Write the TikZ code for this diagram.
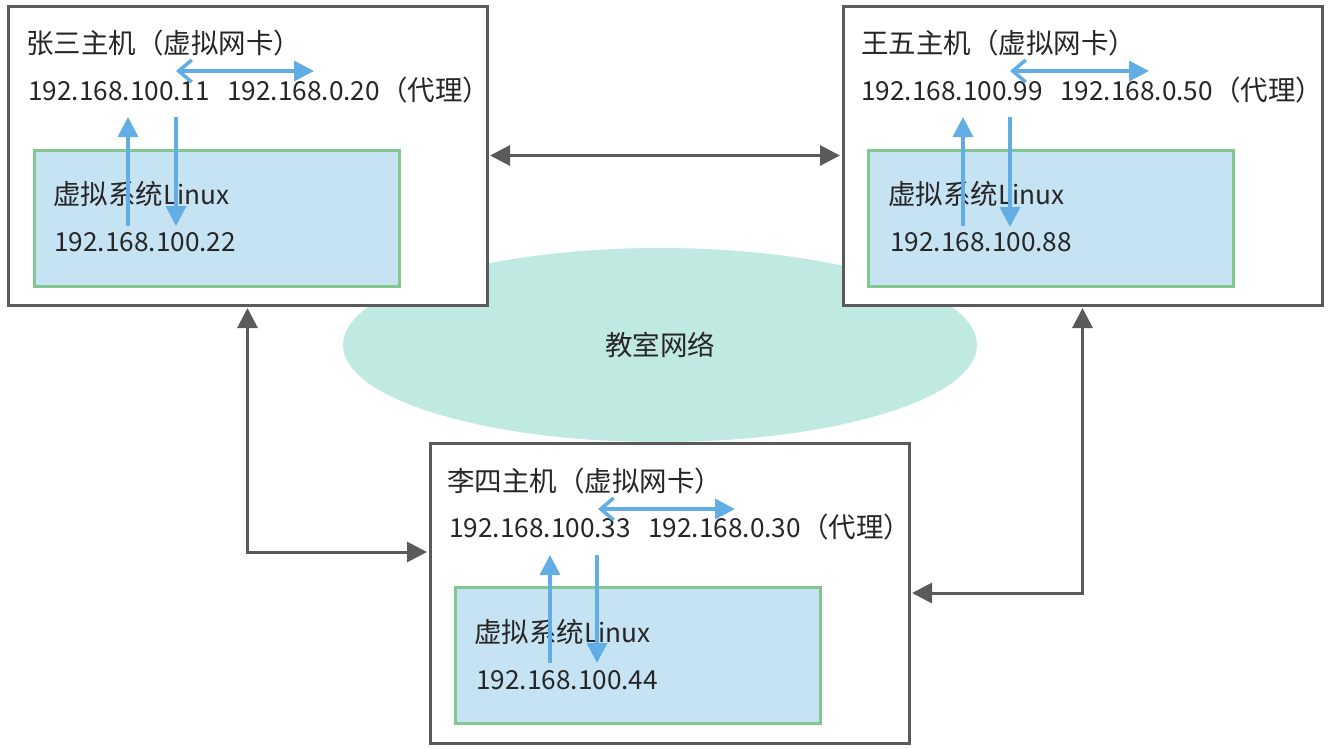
\documentclass[tikz,border=0pt]{standalone}
\usepackage{fontspec}
\setmainfont{Noto Sans CJK SC}
\usetikzlibrary{arrows.meta,calc,shapes.geometric}
\definecolor{hostgray}{HTML}{5A5A5A}
\definecolor{vmgreen}{HTML}{82C78F}
\definecolor{vmblue}{HTML}{C6E3F4}
\definecolor{bluearr}{HTML}{62ADE3}
\definecolor{netfill}{HTML}{BFE9E1}
\definecolor{txt}{HTML}{262626}
\newcommand{\bigcjk}[1]{{\fontsize{27.5}{31}\selectfont #1}}
\begin{document}
\begin{tikzpicture}[x=1pt,y=-1pt,
  host/.style={draw=hostgray, line width=3pt, fill=white, minimum width=479pt, minimum height=299pt, inner sep=0pt},
  vm/.style={draw=vmgreen, fill=vmblue, line width=3pt, minimum width=365pt, minimum height=136pt, inner sep=0pt},
  lbl/.style={anchor=west, inner sep=0pt, font=\fontsize{26.2}{31}\selectfont, text=txt},
  link/.style={draw=hostgray, line width=3pt, {Triangle[length=20pt,width=20pt]}-{Triangle[length=20pt,width=20pt]}},
  nic/.style={draw=bluearr, line width=3.5pt, {Straight Barb[length=13pt,width=22pt,line width=3.5pt]}-{Triangle[length=20pt,width=20pt]}},
  vlink/.style={draw=bluearr, line width=3.5pt, -{Triangle[length=20pt,width=20pt]}}
]
\useasboundingbox (0,0) rectangle (1342,748);

% network ellipse
\node[ellipse, fill=netfill, minimum width=634pt, minimum height=194pt, font=\fontsize{27.5}{31}\selectfont, text=txt] (net) at (660,345) {教室网络};

% hosts
\node[host] (zs) at (247.5,155.5) {};
\node[host] (ww) at (1082.5,155.5) {};
\node[host, minimum height=300pt] (ls) at (669.5,593) {};

% virtual machines
\node[vm] (zsvm) at (216.5,218) {};
\node[vm] (wwvm) at (1051,218) {};
\node[vm] (lsvm) at (638,655) {};

% labels
\node[lbl] (zst) at (26,43) {\bigcjk{张三主机（虚拟网卡）}};
\node[lbl] (zsip) at (28,90) {192.168.100.11\hspace{0.66em}192.168.0.20\bigcjk{（代理）}};
\node[lbl] (zsvt) at (53,194) {\bigcjk{虚拟系统}Linux};
\node[lbl] (zsvip) at (54,242) {192.168.100.22};

\node[lbl] (wwt) at (861,43) {\bigcjk{王五主机（虚拟网卡）}};
\node[lbl] (wwip) at (861,90) {192.168.100.99\hspace{0.66em}192.168.0.50\bigcjk{（代理）}};
\node[lbl] (wwvt) at (888,194) {\bigcjk{虚拟系统}Linux};
\node[lbl] (wwvip) at (890,242) {192.168.100.88};

\node[lbl] (lst) at (447,481) {\bigcjk{李四主机（虚拟网卡）}};
\node[lbl] (lsip) at (449,527) {192.168.100.33\hspace{0.66em}192.168.0.30\bigcjk{（代理）}};
\node[lbl] (lsvt) at (474,632) {\bigcjk{虚拟系统}Linux};
\node[lbl] (lsvip) at (476,680) {192.168.100.44};

% blue arrow end points
\coordinate (zsa1) at (176,71); \coordinate (zsa2) at (314,71);
\coordinate (zsu1) at (128,226); \coordinate (zsu2) at (128,117);
\coordinate (zsd1) at (176,117); \coordinate (zsd2) at (176,226);
\coordinate (wwa1) at (1010,71); \coordinate (wwa2) at (1149,71);
\coordinate (wwu1) at (963,226); \coordinate (wwu2) at (963,117);
\coordinate (wwd1) at (1010,117); \coordinate (wwd2) at (1010,227);
\coordinate (lsa1) at (598,509); \coordinate (lsa2) at (735,509);
\coordinate (lsu1) at (550,663); \coordinate (lsu2) at (550,555);
\coordinate (lsd1) at (597,555); \coordinate (lsd2) at (597,663);

\draw[nic] (zsa1) -- (zsa2);
\draw[vlink] (zsu1) -- (zsu2);
\draw[vlink] (zsd1) -- (zsd2);
\draw[nic] (wwa1) -- (wwa2);
\draw[vlink] (wwu1) -- (wwu2);
\draw[vlink] (wwd1) -- (wwd2);
\draw[nic] (lsa1) -- (lsa2);
\draw[vlink] (lsu1) -- (lsu2);
\draw[vlink] (lsd1) -- (lsd2);

% gray links
\coordinate (lsin) at (ls.west |- 0,552);
\draw[link, shorten <=1.5pt, shorten >=1.5pt] (zs.east) -- (ww.west);
\draw[link, shorten <=1.5pt, shorten >=1.5pt] (zs.south) |- (lsin);
\draw[link, shorten <=1.5pt, shorten >=1.5pt] (ww.south) |- (ls.east);
\end{tikzpicture}
\end{document}
